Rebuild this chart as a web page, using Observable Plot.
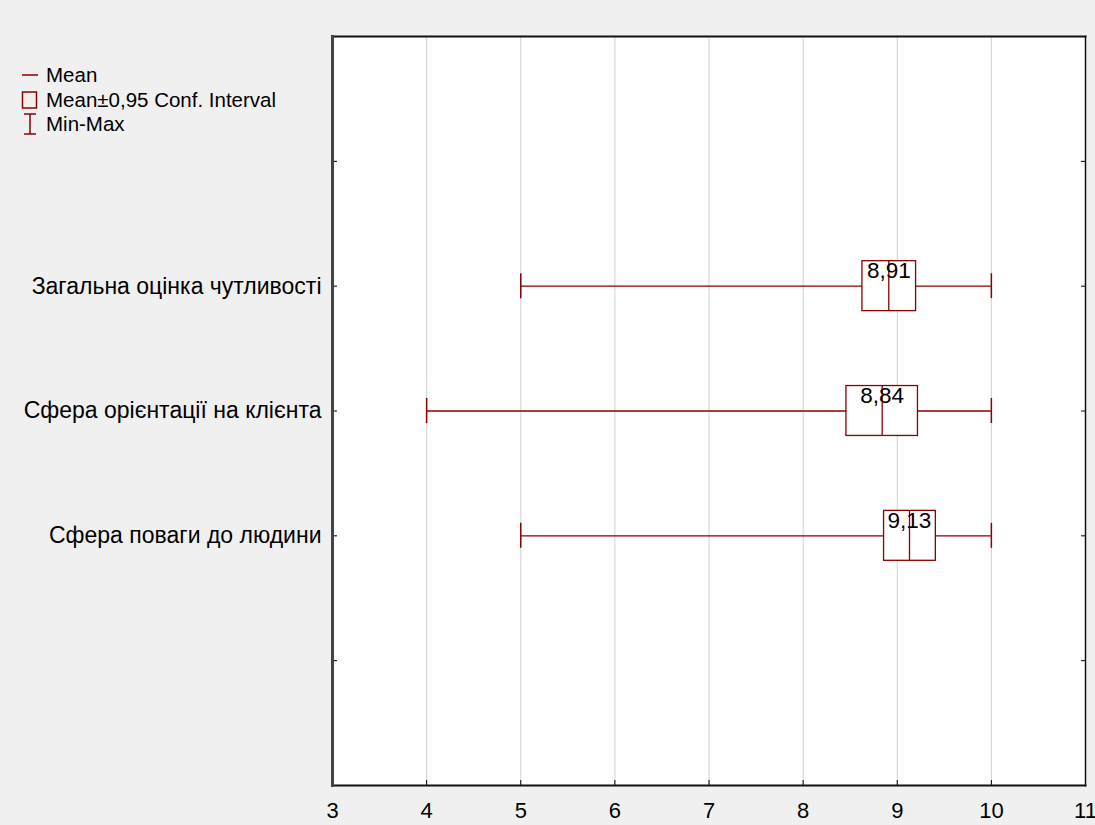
<!DOCTYPE html>
<html>
<head>
<meta charset="utf-8">
<script src="https://cdn.jsdelivr.net/npm/d3@7"></script>
<script src="https://cdn.jsdelivr.net/npm/@observablehq/plot@0.6"></script>
<style>
  html, body { margin: 0; padding: 0; background: #f0f0f0; }
  #wrap { position: relative; width: 1095px; height: 825px; font-family: "Liberation Sans", Arial, sans-serif; }
  #legend { position: absolute; left: 21px; top: 63px; font-size: 20.5px; color: #000; }
  #legend div { display: flex; align-items: center; height: 24.5px; }
  #legend svg { width: 18px; height: 22px; margin-right: 7px; }
</style>
</head>
<body>
<div id="wrap">
  <div id="chart"></div>
  <div id="legend"></div>
</div>
<script>
const categories = ["Загальна оцінка чутливості", "Сфера орієнтації на клієнта", "Сфера поваги до людини"];
const means = [8.91, 8.84, 9.13];
const ciLow = [8.63, 8.46, 8.86];
const ciHigh = [9.20, 9.22, 9.41];
const mins = [5, 4, 5];
const maxs = [10, 10, 10];
const meanLabels = ["8,91", "8,84", "9,13"];
const xTicks = [3, 4, 5, 6, 7, 8, 9, 10, 11];
const yTickSlots = [1, 2, 3, 4, 5];
const slotOffset = 2;

const red = "#8b0000";
const data = categories.map((c, i) => ({
  cat: c, pos: i + slotOffset, mean: means[i], lo: ciLow[i], hi: ciHigh[i],
  min: mins[i], max: maxs[i], label: meanLabels[i]
}));

const chart = Plot.plot({
  width: 1095,
  height: 825,
  marginLeft: 332,
  marginRight: 10,
  marginTop: 36,
  marginBottom: 40,
  style: { background: "#f0f0f0", fontFamily: "Liberation Sans, Arial, sans-serif", overflow: "visible" },
  x: { domain: [3, 11], ticks: xTicks, label: null },
  y: { domain: [6, 0], ticks: yTickSlots, label: null },
  marks: [
    Plot.frame({ fill: "white", stroke: "none" }),
    Plot.gridX(xTicks.slice(1, -1), { stroke: "#d0d0d0", strokeOpacity: 1, strokeWidth: 1 }),
    Plot.ruleY(data, { y: "pos", x1: "min", x2: "max", stroke: red, strokeWidth: 1.3 }),
    Plot.ruleX(data, { x: "min", y1: d => d.pos - 0.1, y2: d => d.pos + 0.1, stroke: red, strokeWidth: 1.5 }),
    Plot.ruleX(data, { x: "max", y1: d => d.pos - 0.1, y2: d => d.pos + 0.1, stroke: red, strokeWidth: 1.5 }),
    Plot.rect(data, { x1: "lo", x2: "hi", y1: d => d.pos - 0.2, y2: d => d.pos + 0.2, fill: "white", stroke: red, strokeWidth: 1.3 }),
    Plot.ruleX(data, { x: "mean", y1: d => d.pos - 0.2, y2: d => d.pos + 0.2, stroke: red, strokeWidth: 1.3 }),
    Plot.text(data, { x: "mean", y: d => d.pos - 0.2, text: "label", dy: 1, lineAnchor: "top", textAnchor: "middle", fontSize: 22.5, fill: "black" }),
    Plot.axisX({ ticks: xTicks, tickSize: -5, tickPadding: 22, fontSize: 22, tickFormat: d => String(d), stroke: "black", label: null }),
    Plot.axisY({ ticks: yTickSlots, tickSize: -5, tickPadding: 16, fontSize: 23, label: null, tickFormat: d => { const i = d - slotOffset; return i >= 0 && i < categories.length ? categories[i] : ""; } }),
    Plot.axisY({ anchor: "right", ticks: yTickSlots, tickSize: -5, tickFormat: () => "", label: null }),
    Plot.frame({ anchor: "top", stroke: "#111", strokeWidth: 2 }),
    Plot.frame({ anchor: "bottom", stroke: "#111", strokeWidth: 2 }),
    Plot.frame({ anchor: "right", stroke: "#111", strokeWidth: 1.5 }),
    Plot.frame({ anchor: "left", stroke: "#444", strokeWidth: 3 })
  ]
});
document.getElementById("chart").appendChild(chart);

const legendItems = [
  { text: "Mean", icon: `<line x1="1" x2="17" y1="11" y2="11" stroke="${red}" stroke-width="1.5"/>` },
  { text: "Mean±0,95 Conf. Interval", icon: `<rect x="1.5" y="3" width="14" height="16" fill="none" stroke="${red}" stroke-width="1.5"/>` },
  { text: "Min-Max", icon: `<line x1="3" x2="15" y1="1" y2="1" stroke="${red}" stroke-width="1.5"/><line x1="9" x2="9" y1="1" y2="21" stroke="${red}" stroke-width="1.5"/><line x1="3" x2="15" y1="21" y2="21" stroke="${red}" stroke-width="1.5"/>` }
];
const leg = document.getElementById("legend");
legendItems.forEach(it => {
  const row = document.createElement("div");
  row.innerHTML = `<svg viewBox="0 0 18 22">${it.icon}</svg><span>${it.text}</span>`;
  leg.appendChild(row);
});
</script>
</body>
</html>
